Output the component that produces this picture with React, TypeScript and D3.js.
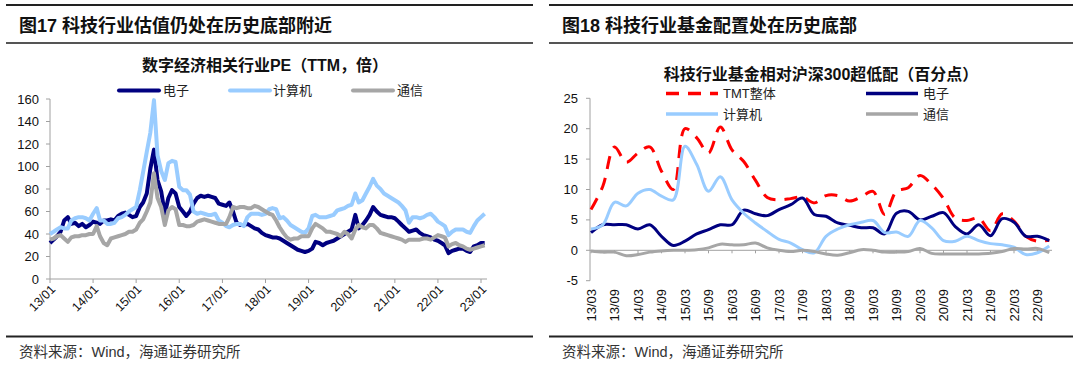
import * as d3 from "d3";

const FONT = "'Liberation Sans', Arial, 'Noto Sans CJK SC', sans-serif";

// 图17 数字经济相关行业PE（TTM，倍）— monthly, from 2013/01
const peStart = "2013/01";
const peElec = [
  32, 35, 38, 42, 52, 55, 49, 50, 47, 49, 46, 48, 51, 50, 49, 52, 52, 53, 52, 56,
  58, 59, 57, 55, 56, 64, 68, 76, 98, 115, 88, 78, 58, 72, 79, 76, 64, 60, 56, 60,
  67, 72, 74, 73, 74, 73, 72, 67, 66, 65, 68, 60, 50, 48, 48, 49, 47, 45, 44, 41,
  39, 38, 37, 37, 36, 34, 32, 30, 28, 26, 25, 24, 25, 27, 33, 32, 30, 32, 33, 34,
  36, 38, 40, 42, 44, 57, 45, 48, 52, 57, 64, 60, 57, 56, 55, 55, 54, 51, 48, 45,
  42, 43, 44, 41, 39, 38, 37, 35, 34, 32, 30, 23, 25, 26, 27, 27, 25, 24, 29, 30,
  32, 32,
];
const peComp = [
  40, 42, 44, 46, 45, 45, 52, 54, 55, 55, 54, 52, 58, 63, 52, 52, 49, 49, 50, 54,
  55, 57, 60, 62, 64, 79, 95, 113, 130, 159, 110, 96, 88, 103, 105, 104, 82, 79, 79, 75,
  60, 58, 59, 58, 57, 57, 58, 52, 50, 47, 46, 48, 49, 49, 47, 55, 58, 58, 58, 57,
  58, 62, 63, 62, 54, 55, 52, 48, 46, 44, 42, 41, 45, 56, 57, 55, 55, 55, 56, 57,
  61, 62, 63, 65, 66, 76, 68, 70, 76, 82, 89, 83, 80, 76, 74, 72, 70, 68, 65, 61,
  50, 55, 55, 54, 55, 57, 58, 55, 51, 49, 47, 39, 42, 44, 44, 44, 42, 41, 47, 52,
  55, 58,
];
const peTele = [
  35, 36, 38, 39, 36, 33, 37, 38, 38, 39, 39, 40, 40, 47, 38, 32, 30, 36, 37, 38,
  39, 40, 42, 42, 44, 50, 53, 60, 68, 94, 72, 64, 48, 61, 64, 62, 48, 48, 47, 47,
  48, 51, 52, 53, 52, 51, 50, 49, 49, 49, 55, 64, 63, 64, 64, 63, 63, 65, 64, 62,
  60, 58, 57, 52, 46, 41, 37, 35, 36, 36, 38, 38, 38, 45, 49, 47, 45, 42, 42, 41,
  40, 38, 42, 40, 36, 44, 48, 46, 45, 48, 48, 45, 41, 40, 39, 38, 37, 36, 35, 33,
  35, 35, 35, 35, 36, 36, 35, 37, 39, 38, 37, 29, 31, 32, 30, 29, 27, 26, 27, 28,
  29, 30,
];
const peYearTicks = ["13/01", "14/01", "15/01", "16/01", "17/01", "18/01", "19/01", "20/01", "21/01", "22/01", "23/01"];
const peYTicks = [0, 20, 40, 60, 80, 100, 120, 140, 160];

// 图18 科技行业基金相对沪深300超低配（百分点）— quarterly
const quarters = [
  "13/03", "13/06", "13/09", "13/12", "14/03", "14/06", "14/09", "14/12",
  "15/03", "15/06", "15/09", "15/12", "16/03", "16/06", "16/09", "16/12",
  "17/03", "17/06", "17/09", "17/12", "18/03", "18/06", "18/09", "18/12",
  "19/03", "19/06", "19/09", "19/12", "20/03", "20/06", "20/09", "20/12",
  "21/03", "21/06", "21/09", "21/12", "22/03", "22/06", "22/09", "22/12",
];
const fundTMT = [
  6.7, 10.5, 17, 14.5, 16, 17, 13, 10, 20, 18.5, 16, 20.3, 16.5, 14.6, 11.5, 8.7,
  8.3, 8.5, 8.8, 7.8, 9, 9, 8.1, 8.8, 9.7, 5.9, 9.7, 10.3, 12.3, 10.8, 8.5, 5.3,
  4.9, 5.3, 3.2, 6, 4.8, 2.3, 1.5, 1.7,
];
const fundElec = [
  2.9, 4.2, 4.2, 4.2, 3.5, 4.2, 2.3, 0.8, 1.5, 2.7, 3.4, 4.2, 4.2, 6.6, 6.0, 5.7,
  6.7, 7.5, 8.6, 5.9, 5.6, 4.5, 4.1, 3.7, 3.7, 2.7, 6.1, 6.4, 5.0, 5.6, 6.2, 3.9,
  2.7, 4.2, 2.4, 5.2, 4.6, 2.3, 2.3, 1.6,
];
const fundComp = [
  3.5, 4.2, 7.9, 7.3, 9.4, 10, 8.9, 8.3, 17.1, 14.1, 9.7, 12.1, 8.3, 6.1, 4.5, 3.1,
  1.8, 1.2, 0.1, -0.4, 2.3, 3.5, 4.2, 4.6, 4.9, 2.9, 3.0, 2.3, 4.9, 3.7, 1.6, 1.5,
  2.3, 1.6, 1.1, 0.9, 0.5, -0.7, -0.4, 0.7,
];
const fundTele = [
  -0.1, -0.3, -0.3, -0.9, -0.7, -0.3, -0.1, 0, 0, 0.1, 0.4, 1.0, 0.9, 0.9, 1.2, 0.4,
  0, -0.2, 0, -0.2, -0.6, -0.8, -0.4, 0.1, 0, -0.3, -0.3, -0.2, 0.3, -0.5, -0.6, -0.6,
  -0.6, -0.6, -0.5, -0.2, 0.3, 0.2, 0.3, -0.4,
];
const fundYTicks = [-5, 0, 5, 10, 15, 20, 25];

const NAVY = "#000080";
const LIGHT = "#99ccff";
const GRAY = "#a6a6a6";
const RED = "#ff0000";
const AXIS = "#a0a0a0";

function Frame({ x0, x1, title }: { x0: number; x1: number; title: string }) {
  return (
    <g>
      <line x1={x0} x2={x1} y1={5} y2={5} stroke="#222" strokeWidth={2} />
      <text x={x0 + 13} y={32} fontSize={18} fontWeight="bold" fill="#111">{title}</text>
      <line x1={x0} x2={x1} y1={43} y2={43} stroke="#555" strokeWidth={2} />
      <line x1={x0} x2={x1} y1={336.5} y2={336.5} stroke="#222" strokeWidth={2} />
      <text x={x0 + 13} y={357} fontSize={14.5} fill="#333">资料来源：Wind，海通证券研究所</text>
    </g>
  );
}

function PeChart() {
  const parse = d3.timeParse("%Y/%m")!;
  const start = parse(peStart) as Date;
  const x = d3.scaleTime().domain([new Date(2013, 0, 1), new Date(2023, 0, 1)]).range([50, 481]);
  const y = d3.scaleLinear().domain([0, 160]).range([279, 99]);
  const dates = peElec.map((_, i) => d3.timeMonth.offset(start, i));
  const line = d3
    .line<number>()
    .x((_, i) => x(dates[i]))
    .y((d) => y(d));
  const tickParse = d3.timeParse("%y/%m")!;
  const series = [
    { name: "电子", data: peElec, color: NAVY, lx: 119, tx: 163 },
    { name: "计算机", data: peComp, color: LIGHT, lx: 230, tx: 273 },
    { name: "通信", data: peTele, color: GRAY, lx: 353, tx: 397 },
  ];
  return (
    <g fontFamily={FONT}>
      <Frame x0={6} x1={533} title="图17 科技行业估值仍处在历史底部附近" />
      <text x={265} y={71} fontSize={16} fontWeight="bold" textAnchor="middle" fill="#111">
        数字经济相关行业PE（TTM，倍）
      </text>
      {series.map((s) => (
        <g key={s.name}>
          <line x1={s.lx} x2={s.lx + 40} y1={90.5} y2={90.5} stroke={s.color} strokeWidth={4} strokeLinecap="round" />
          <text x={s.tx} y={95} fontSize={13} fill="#222">{s.name}</text>
        </g>
      ))}
      {/* axes */}
      <line x1={50} x2={50} y1={99} y2={279} stroke={AXIS} />
      {peYTicks.map((t) => (
        <g key={t}>
          <line x1={46} x2={50} y1={y(t)} y2={y(t)} stroke={AXIS} />
          <text x={39} y={y(t)} dy="0.35em" fontSize={13} textAnchor="end" fill="#111">{t}</text>
        </g>
      ))}
      <line x1={50} x2={487} y1={279} y2={279} stroke={AXIS} />
      {peYearTicks.map((t) => {
        const tx = x(tickParse(t) as Date);
        return (
          <g key={t}>
            <line x1={tx} x2={tx} y1={279} y2={283} stroke={AXIS} />
            <text
              transform={`translate(${tx + 3},${287}) rotate(-45)`}
              dy="0.35em"
              fontSize={12.5}
              textAnchor="end"
              fill="#111"
            >
              {t}
            </text>
          </g>
        );
      })}
      {series.map((s) => (
        <path key={s.name} d={line(s.data) ?? ""} fill="none" stroke={s.color} strokeWidth={4} strokeLinejoin="round" />
      ))}
    </g>
  );
}

function FundChart() {
  const x = d3.scalePoint<string>().domain(quarters).range([591, 591 + 39 * 11.75]);
  const y = d3.scaleLinear().domain([-5, 25]).range([280.7, 98.3]);
  const line = d3
    .line<number>()
    .x((_, i) => x(quarters[i]) as number)
    .y((d) => y(d))
    .curve(d3.curveCatmullRom.alpha(0.5));
  const series = [
    { name: "TMT整体", data: fundTMT, color: RED, dash: "13,9", lx: 666, tx: 723, ly: 93.5 },
    { name: "电子", data: fundElec, color: NAVY, dash: null, lx: 866, tx: 923, ly: 93.5 },
    { name: "计算机", data: fundComp, color: LIGHT, dash: null, lx: 666, tx: 723, ly: 114 },
    { name: "通信", data: fundTele, color: GRAY, dash: null, lx: 866, tx: 923, ly: 114 },
  ];
  const labelQuarters = quarters.filter((_, i) => i % 2 === 0);
  return (
    <g fontFamily={FONT}>
      <Frame x0={549} x1={1073} title="图18 科技行业基金配置处在历史底部" />
      <text x={821} y={80} fontSize={16} fontWeight="bold" textAnchor="middle" fill="#111">
        科技行业基金相对沪深300超低配（百分点）
      </text>
      {series.map((s) => (
        <g key={s.name}>
          <line
            x1={s.lx}
            x2={s.lx + 52}
            y1={s.ly}
            y2={s.ly}
            stroke={s.color}
            strokeWidth={3.5}
            strokeDasharray={s.dash ?? undefined}
          />
          <text x={s.tx} y={s.ly + 4.5} fontSize={13} fill="#222">{s.name}</text>
        </g>
      ))}
      <line x1={590} x2={590} y1={98.3} y2={280.7} stroke={AXIS} />
      {fundYTicks.map((t) => (
        <g key={t}>
          <line x1={586} x2={590} y1={y(t)} y2={y(t)} stroke={AXIS} />
          <text x={578} y={y(t)} dy="0.35em" fontSize={13} textAnchor="end" fill="#111">{t}</text>
        </g>
      ))}
      <line x1={590} x2={1052} y1={y(0)} y2={y(0)} stroke={AXIS} />
      {labelQuarters.map((q) => {
        const qx = x(q) as number;
        return (
          <g key={q}>
            <line x1={qx} x2={qx} y1={y(0)} y2={y(0) + 3} stroke={AXIS} />
            <text
              transform={`translate(${qx},${289}) rotate(-90)`}
              dy="0.35em"
              fontSize={13}
              textAnchor="end"
              fill="#111"
            >
              {q}
            </text>
          </g>
        );
      })}
      {series.map((s) => (
        <path
          key={s.name}
          d={line(s.data) ?? ""}
          fill="none"
          stroke={s.color}
          strokeWidth={3}
          strokeDasharray={s.dash ?? undefined}
          strokeLinejoin="round"
        />
      ))}
    </g>
  );
}

export default function App() {
  return (
    <svg
      width={1080}
      height={367}
      style={{ position: "absolute", left: 0, top: 0, background: "#fff" }}
    >
      <rect width={1080} height={367} fill="#fff" />
      <PeChart />
      <FundChart />
    </svg>
  );
}
